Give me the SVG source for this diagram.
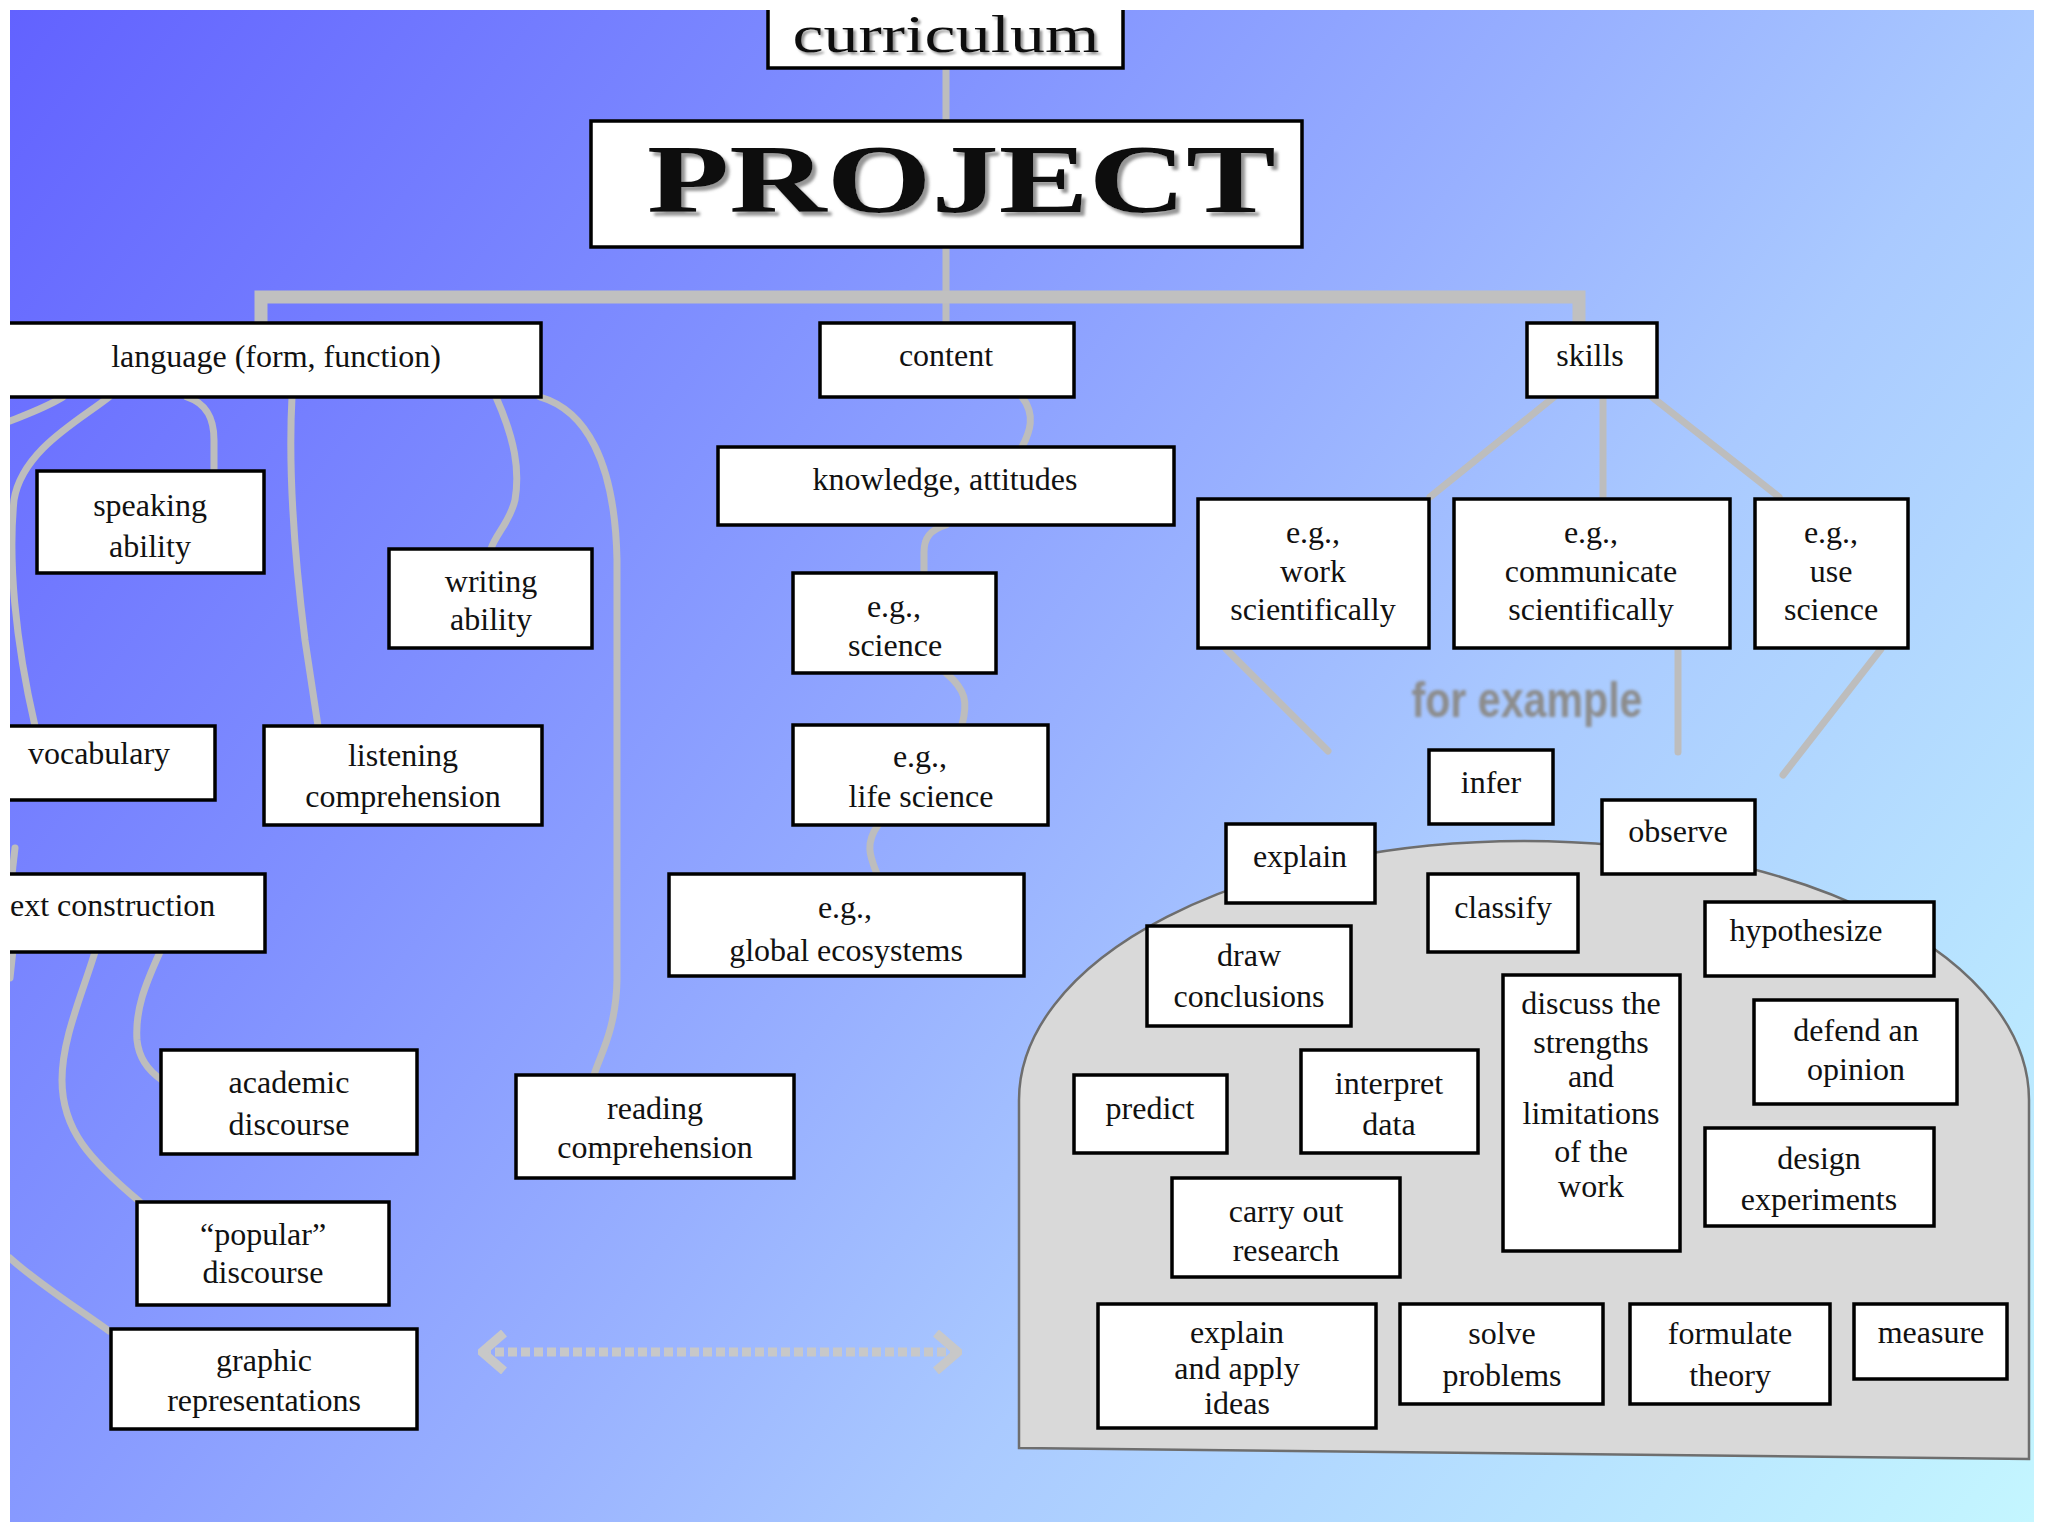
<svg xmlns="http://www.w3.org/2000/svg" width="2048" height="1536" viewBox="0 0 2048 1536">
<defs>
  <linearGradient id="bg" gradientUnits="userSpaceOnUse" x1="10" y1="10" x2="2034" y2="1522">
    <stop offset="0" stop-color="#6262ff"/>
    <stop offset="0.3" stop-color="#8090ff"/>
    <stop offset="0.5" stop-color="#98b0ff"/>
    <stop offset="0.65" stop-color="#aacaff"/>
    <stop offset="0.85" stop-color="#b8e4ff"/>
    <stop offset="1" stop-color="#c4f6ff"/>
  </linearGradient>
  <clipPath id="clip"><rect x="10" y="10" width="2024" height="1512"/></clipPath>
  <filter id="blur" x="-10%" y="-30%" width="120%" height="160%"><feGaussianBlur stdDeviation="1.6"/></filter>
  <filter id="shadow" x="-5%" y="-20%" width="115%" height="150%">
    <feDropShadow dx="4" dy="4" stdDeviation="1.5" flood-color="#8a8a8a" flood-opacity="0.9"/>
  </filter>
  <filter id="shadowSm" x="-5%" y="-20%" width="115%" height="150%">
    <feDropShadow dx="2.5" dy="2.5" stdDeviation="1.2" flood-color="#8a8a8a" flood-opacity="0.9"/>
  </filter>
  <marker id="chev" viewBox="0 0 30 44" refX="26" refY="22" markerWidth="30" markerHeight="44" markerUnits="userSpaceOnUse" orient="auto-start-reverse">
    <path d="M4,3 L26,22 L4,41" fill="none" stroke="#c8c8c8" stroke-width="9" stroke-linejoin="miter"/>
  </marker>
</defs>
<style>
  .box { fill:#ffffff; stroke:#000000; stroke-width:3.5; }
  .t { font-family:"Liberation Serif","Times New Roman",serif; font-size:32px; fill:#111111; text-anchor:middle; }
  .s { text-anchor:start; }
  .c { fill:none; stroke:#bdbdbd; stroke-width:7; stroke-linecap:round; }
  .bar { fill:none; stroke:#c0c0c0; stroke-width:13; }
</style>
<rect x="10" y="10" width="2024" height="1512" fill="url(#bg)"/>
<g clip-path="url(#clip)">
  <g id="dome">
    <path d="M1019,1448 L1019,1100 A505,259 0 0 1 2029,1100 L2029,1459 Z" fill="#d9d9d9" stroke="#6e6e6e" stroke-width="2.5"/>
  </g>
  <g id="connectors">
    <path class="c" d="M946,68 L946,121"/>
    <path class="c" d="M946,247 L946,323"/>
    <path class="bar" d="M261,323 L261,297 L1579,297 L1579,323"/>
    <path class="c" d="M1022,397 C1036,415 1030,432 1022,447"/>
    <path class="c" d="M946,525 C930,530 924,538 924,552 L924,573"/>
    <path class="c" d="M946,673 C966,690 968,702 962,725"/>
    <path class="c" d="M878,825 C864,845 871,858 877,874"/>
    <path class="c" d="M1554,397 L1430,497"/>
    <path class="c" d="M1603,397 L1603,499"/>
    <path class="c" d="M1652,397 L1779,497"/>
    <path class="c" d="M1226,649 L1328,751"/>
    <path class="c" d="M1678,648 L1678,752"/>
    <path class="c" d="M1881,649 L1783,775"/>
    <path class="c" d="M63,397 C45,408 25,415 10,421"/>
    <path class="c" d="M109,397 C80,420 22,450 14,500 C8,560 15,640 35,726"/>
    <path class="c" d="M187,397 C208,404 214,420 214,440 L214,471"/>
    <path class="c" d="M292,397 C288,470 295,560 305,640 L318,726"/>
    <path class="c" d="M496,397 C515,440 520,470 515,500 C510,522 495,535 491,549"/>
    <path class="c" d="M540,397 C585,410 615,460 617,560 L617,980 C616,1030 600,1055 594,1075"/>
    <path class="c" d="M15,848 L12,874"/>
    <path class="c" d="M13,950 L10,978"/>
    <path class="c" d="M10,1258 C40,1285 80,1310 109,1331"/>
    <path class="c" d="M95,952 C80,1000 62,1040 62,1080 C62,1130 90,1160 140,1202"/>
    <path class="c" d="M160,952 C145,985 135,1010 137,1040 C139,1060 150,1072 162,1080"/>
    <path d="M482,1352 L958,1352" fill="none" stroke="#c8c8c8" stroke-width="9" stroke-dasharray="9 4" marker-start="url(#chev)" marker-end="url(#chev)"/>
  </g>

  <g id="curriculum">
    <rect class="box" x="768" y="4" width="355" height="64"/>
    <text class="t" x="946" y="52" style="font-size:52px" filter="url(#shadowSm)" textLength="307" lengthAdjust="spacingAndGlyphs">curriculum</text>
  </g>
  <g id="project">
    <rect class="box" x="591" y="121" width="711" height="126"/>
    <text class="t s" x="647" y="212" style="font-size:98px;font-weight:bold" filter="url(#shadow)" textLength="629" lengthAdjust="spacingAndGlyphs">PROJECT</text>
  </g>
  <g id="language">
    <rect class="box" x="4" y="323" width="537" height="74"/>
    <text class="t" x="276" y="367">language (form, function)</text>
  </g>
  <g id="content">
    <rect class="box" x="820" y="323" width="254" height="74"/>
    <text class="t" x="946" y="366">content</text>
  </g>
  <g id="skills">
    <rect class="box" x="1527" y="323" width="130" height="74"/>
    <text class="t" x="1590" y="366">skills</text>
  </g>
  <g id="knowledge">
    <rect class="box" x="718" y="447" width="456" height="78"/>
    <text class="t" x="945" y="490">knowledge, attitudes</text>
  </g>
  <g id="science">
    <rect class="box" x="793" y="573" width="203" height="100"/>
    <text class="t" x="894" y="617">e.g.,</text>
    <text class="t" x="895" y="656">science</text>
  </g>
  <g id="life-science">
    <rect class="box" x="793" y="725" width="255" height="100"/>
    <text class="t" x="920" y="767">e.g.,</text>
    <text class="t" x="921" y="807">life science</text>
  </g>
  <g id="global-ecosystems">
    <rect class="box" x="669" y="874" width="355" height="102"/>
    <text class="t" x="845" y="918">e.g.,</text>
    <text class="t" x="846" y="961">global ecosystems</text>
  </g>
  <g id="work-scientifically">
    <rect class="box" x="1198" y="499" width="231" height="149"/>
    <text class="t" x="1313" y="543">e.g.,</text>
    <text class="t" x="1313" y="582">work</text>
    <text class="t" x="1313" y="620">scientifically</text>
  </g>
  <g id="communicate-scientifically">
    <rect class="box" x="1454" y="499" width="276" height="149"/>
    <text class="t" x="1591" y="543">e.g.,</text>
    <text class="t" x="1591" y="582">communicate</text>
    <text class="t" x="1591" y="620">scientifically</text>
  </g>
  <g id="use-science">
    <rect class="box" x="1755" y="499" width="153" height="149"/>
    <text class="t" x="1831" y="543">e.g.,</text>
    <text class="t" x="1831" y="582">use</text>
    <text class="t" x="1831" y="620">science</text>
  </g>
  <g id="speaking">
    <rect class="box" x="37" y="471" width="227" height="102"/>
    <text class="t" x="150" y="516">speaking</text>
    <text class="t" x="150" y="557">ability</text>
  </g>
  <g id="writing">
    <rect class="box" x="389" y="549" width="203" height="99"/>
    <text class="t" x="491" y="592">writing</text>
    <text class="t" x="491" y="630">ability</text>
  </g>
  <g id="vocabulary">
    <rect class="box" x="4" y="726" width="211" height="74"/>
    <text class="t" x="99" y="764">vocabulary</text>
  </g>
  <g id="listening">
    <rect class="box" x="264" y="726" width="278" height="99"/>
    <text class="t" x="403" y="766">listening</text>
    <text class="t" x="403" y="807">comprehension</text>
  </g>
  <g id="text-construction">
    <rect class="box" x="4" y="874" width="261" height="78"/>
    <text class="t s" x="10" y="916">ext construction</text>
  </g>
  <g id="academic">
    <rect class="box" x="161" y="1050" width="256" height="104"/>
    <text class="t" x="289" y="1093">academic</text>
    <text class="t" x="289" y="1135">discourse</text>
  </g>
  <g id="popular">
    <rect class="box" x="137" y="1202" width="252" height="103"/>
    <text class="t" x="263" y="1245">“popular”</text>
    <text class="t" x="263" y="1283">discourse</text>
  </g>
  <g id="graphic">
    <rect class="box" x="111" y="1329" width="306" height="100"/>
    <text class="t" x="264" y="1371">graphic</text>
    <text class="t" x="264" y="1411">representations</text>
  </g>
  <g id="reading">
    <rect class="box" x="516" y="1075" width="278" height="103"/>
    <text class="t" x="655" y="1119">reading</text>
    <text class="t" x="655" y="1158">comprehension</text>
  </g>
  <g id="for-example">
    <text x="1527" y="717" font-family="'Liberation Sans',Arial,sans-serif" font-size="50" font-weight="bold" fill="#8c8c8c" text-anchor="middle" textLength="231" lengthAdjust="spacingAndGlyphs" filter="url(#blur)">for example</text>
  </g>
  <g id="infer">
    <rect class="box" x="1429" y="750" width="124" height="74"/>
    <text class="t" x="1491" y="793">infer</text>
  </g>
  <g id="observe">
    <rect class="box" x="1602" y="800" width="153" height="74"/>
    <text class="t" x="1678" y="842">observe</text>
  </g>
  <g id="explain">
    <rect class="box" x="1226" y="824" width="149" height="79"/>
    <text class="t" x="1300" y="867">explain</text>
  </g>
  <g id="classify">
    <rect class="box" x="1428" y="874" width="150" height="78"/>
    <text class="t" x="1503" y="918">classify</text>
  </g>
  <g id="hypothesize">
    <rect class="box" x="1705" y="902" width="229" height="74"/>
    <text class="t" x="1806" y="941">hypothesize</text>
  </g>
  <g id="draw-conclusions">
    <rect class="box" x="1147" y="926" width="204" height="100"/>
    <text class="t" x="1249" y="966">draw</text>
    <text class="t" x="1249" y="1007">conclusions</text>
  </g>
  <g id="discuss">
    <rect class="box" x="1503" y="975" width="177" height="276"/>
    <text class="t" x="1591" y="1014">discuss the</text>
    <text class="t" x="1591" y="1053">strengths</text>
    <text class="t" x="1591" y="1087">and</text>
    <text class="t" x="1591" y="1124">limitations</text>
    <text class="t" x="1591" y="1162">of the</text>
    <text class="t" x="1591" y="1197">work</text>
  </g>
  <g id="defend">
    <rect class="box" x="1754" y="1000" width="203" height="104"/>
    <text class="t" x="1856" y="1041">defend an</text>
    <text class="t" x="1856" y="1080">opinion</text>
  </g>
  <g id="predict">
    <rect class="box" x="1074" y="1075" width="153" height="78"/>
    <text class="t" x="1150" y="1119">predict</text>
  </g>
  <g id="interpret">
    <rect class="box" x="1301" y="1050" width="177" height="103"/>
    <text class="t" x="1389" y="1094">interpret</text>
    <text class="t" x="1389" y="1135">data</text>
  </g>
  <g id="design">
    <rect class="box" x="1705" y="1128" width="229" height="98"/>
    <text class="t" x="1819" y="1169">design</text>
    <text class="t" x="1819" y="1210">experiments</text>
  </g>
  <g id="carry-out">
    <rect class="box" x="1172" y="1178" width="228" height="99"/>
    <text class="t" x="1286" y="1222">carry out</text>
    <text class="t" x="1286" y="1261">research</text>
  </g>
  <g id="explain-apply">
    <rect class="box" x="1098" y="1304" width="278" height="124"/>
    <text class="t" x="1237" y="1343">explain</text>
    <text class="t" x="1237" y="1379">and apply</text>
    <text class="t" x="1237" y="1414">ideas</text>
  </g>
  <g id="solve">
    <rect class="box" x="1400" y="1304" width="203" height="100"/>
    <text class="t" x="1502" y="1344">solve</text>
    <text class="t" x="1502" y="1386">problems</text>
  </g>
  <g id="formulate">
    <rect class="box" x="1630" y="1304" width="200" height="100"/>
    <text class="t" x="1730" y="1344">formulate</text>
    <text class="t" x="1730" y="1386">theory</text>
  </g>
  <g id="measure">
    <rect class="box" x="1854" y="1304" width="153" height="75"/>
    <text class="t" x="1931" y="1343">measure</text>
  </g>
</g>
</svg>
